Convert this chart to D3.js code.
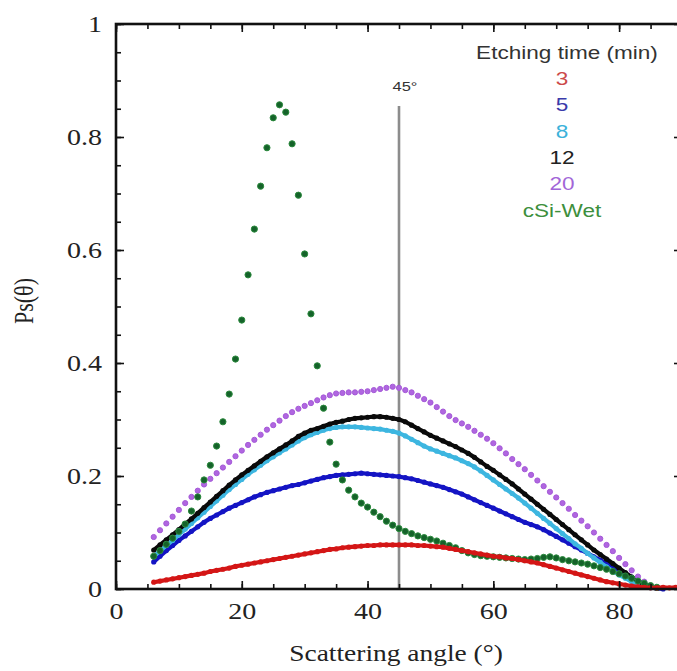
<!DOCTYPE html>
<html><head><meta charset="utf-8">
<script src="https://cdn.jsdelivr.net/npm/d3@7/dist/d3.min.js"></script>
<style>body{margin:0;background:#fff}svg{display:block}</style>
</head><body>
<svg id="chart" width="677" height="671"></svg>
<script>
// ---- data ----
const angles = [6,7,8,9,10,11,12,13,14,15,16,17,18,19,20,21,22,23,24,25,26,27,28,29,30,31,32,33,34,35,36,37,38,39,40,41,42,43,44,45,46,47,48,49,50,51,52,53,54,55,56,57,58,59,60,61,62,63,64,65,66,67,68,69,70,71,72,73,74,75,76,77,78,79,80,81,82,83,84,85,86,87,88,89,90];
const ps3 = [.012,.014,.016,.018,.020,.022,.024,.026,.028,.031,
  .033,.035,.037,.040,.042,.044,.046,.048,.050,.052,
  .054,.056,.058,.060,.062,.064,.066,.068,.070,.071,
  .073,.074,.075,.076,.077,.077,.078,.078,.078,.078,
  .078,.078,.077,.077,.076,.075,.074,.072,.070,.068,
  .066,.064,.062,.060,.058,.057,.055,.054,.052,.050,
  .048,.046,.043,.040,.037,.034,.031,.028,.025,.022,
  .019,.016,.013,.011,.009,.007,.005,.004,.003,.002,
  .002,.003,.002,.003,.002];
const ps5 = [.048,.058,.068,.077,.086,.094,.102,.110,.118,.125,
  .131,.137,.143,.148,.153,.158,.163,.167,.171,.174,
  .177,.180,.183,.185,.188,.191,.194,.197,.199,.201,
  .202,.203,.204,.205,.204,.203,.202,.201,.200,.199,
  .197,.195,.192,.189,.186,.183,.180,.176,.172,.168,
  .163,.158,.153,.148,.143,.138,.133,.128,.123,.118,
  .114,.110,.105,.099,.093,.087,.081,.075,.069,.063,
  .057,.051,.045,.039,.033,.027,.021,.015,.009,.004,
  .001,.000];
const ps8 = [.058,.067,.077,.086,.096,.106,.116,.126,.136,.146,
  .156,.166,.176,.185,.194,.203,.211,.219,.227,.234,
  .241,.248,.255,.262,.268,.273,.277,.281,.284,.286,
  .287,.287,.287,.286,.285,.284,.283,.281,.279,.276,
  .271,.265,.259,.253,.248,.244,.240,.236,.232,.227,
  .222,.216,.209,.201,.193,.185,.177,.169,.161,.152,
  .143,.134,.125,.116,.107,.098,.089,.080,.072,.063,
  .055,.047,.039,.032,.025,.019,.013,.008,.004,.002];
const ps12 = [.069,.078,.087,.096,.105,.115,.124,.134,.144,.154,
  .164,.174,.184,.193,.202,.210,.218,.226,.234,.241,
  .248,.255,.262,.270,.276,.281,.284,.288,.292,.295,
  .297,.300,.302,.303,.304,.305,.305,.304,.302,.300,
  .296,.290,.284,.278,.272,.267,.262,.257,.252,.246,
  .240,.233,.225,.217,.210,.202,.194,.186,.177,.168,
  .159,.150,.141,.132,.123,.114,.105,.096,.087,.078,
  .069,.061,.053,.045,.037,.029,.021,.014,.008,.003,
  .001];
const ps20 = [.092,.104,.116,.128,.140,.152,.163,.174,.185,.195,
  .205,.215,.225,.235,.245,.255,.264,.273,.282,.290,
  .298,.306,.313,.319,.324,.329,.334,.339,.343,.346,
  .347,.348,.348,.349,.350,.352,.354,.356,.358,.356,
  .352,.348,.342,.336,.330,.322,.314,.306,.299,.293,
  .287,.280,.273,.266,.258,.249,.240,.230,.221,.212,
  .202,.192,.182,.172,.162,.152,.142,.131,.121,.111,
  .100,.089,.078,.067,.055,.044,.033,.022,.013,.006,
  .002];
const psWet = [.058,.068,.079,.090,.102,.115,.138,.163,.193,.219,
  .253,.296,.345,.407,.476,.556,.637,.713,.781,.834,
  .857,.844,.788,.697,.593,.487,.395,.320,.260,.221,
  .193,.175,.163,.152,.145,.136,.128,.120,.113,.107,
  .102,.098,.094,.091,.088,.085,.081,.077,.073,.068,
  .064,.061,.059,.058,.057,.056,.055,.054,.053,.052,
  .053,.054,.056,.057,.055,.052,.050,.048,.046,.044,
  .041,.038,.035,.031,.027,.023,.019,.014,.010,.006,
  .003];
const legendTitle = "Etching time (min)";
const legendLabels = ["3","5","8","12","20","cSi-Wet"];
const xMajorTicks = [0,20,40,60,80];
const xMinorTicks = [0,5,10,15,20,25,30,35,40,45,50,55,60,65,70,75,80,85,90];
const yMajorTicks = [0,0.2,0.4,0.6,0.8,1];
const yMinorTicks = [0,0.05,0.1,0.15,0.2,0.25,0.3,0.35,0.4,0.45,0.5,0.55,0.6,0.65,0.7,0.75,0.8,0.85,0.9,0.95,1];
const refAngle = 45, refTop = 0.855;

// ---- drawing ----
const svg = d3.select("#chart");
const x = d3.scaleLinear().domain([0,90]).range([116,682]);
const y = d3.scaleLinear().domain([0,1]).range([589,24]);
const SX = 1.22;
const serif = "'Liberation Serif','Times New Roman',serif";
const sans = "'Liberation Sans',Arial,sans-serif";

svg.append("defs").append("clipPath").attr("id","pc")
  .append("rect").attr("x",116).attr("y",20).attr("width",566).attr("height",572);

// reference line
svg.append("line").attr("x1",x(refAngle)).attr("x2",x(refAngle))
  .attr("y1",y(0)).attr("y2",y(refTop))
  .attr("stroke","#8c8c8c").attr("stroke-width",2.6);
svg.append("text").attr("transform",`translate(${x(refAngle)+6},91) scale(${SX},1)`)
  .attr("text-anchor","middle").attr("font-family",sans).attr("font-size",13.5)
  .attr("fill","#333").text("45°");

const plot = svg.append("g").attr("clip-path","url(#pc)");
function lineSeries(vals,color,r,w){
  const pts = vals.map((v,i)=>[angles[i],v]);
  plot.append("path").datum(pts)
    .attr("fill","none").attr("stroke",color).attr("stroke-width",w)
    .attr("stroke-linejoin","round")
    .attr("d",d3.line().x(d=>x(d[0])).y(d=>y(d[1])));
  plot.append("g").selectAll("circle").data(pts).join("circle")
    .attr("cx",d=>x(d[0])).attr("cy",d=>y(d[1])).attr("r",r).attr("fill",color);
}
function dotSeries(vals,fill,stroke,r){
  const pts = vals.map((v,i)=>[angles[i],v]);
  plot.append("g").selectAll("circle").data(pts).join("circle")
    .attr("cx",d=>x(d[0])).attr("cy",d=>y(d[1])).attr("r",r)
    .attr("fill",fill).attr("stroke",stroke).attr("stroke-width",1);
}
lineSeries(ps5,"#1414c4",2.6,4.2);
lineSeries(ps8,"#3db6e0",2.6,4.2);
lineSeries(ps12,"#0a0a0a",2.6,4.2);
dotSeries(ps20,"#b066e0","#a55ad8",2.6);
dotSeries(psWet,"#15622a","#2b8a3d",3.1);
lineSeries(ps3,"#d41616",2.6,4.2);

// axes
function styleAxis(g){ g.select(".domain").remove(); g.selectAll("line").attr("stroke","#111").attr("stroke-width",1.6); }
svg.append("g").attr("transform",`translate(0,${y(0)})`)
  .call(d3.axisBottom(x).tickValues(xMinorTicks).tickSizeInner(-5).tickSizeOuter(0).tickFormat(""))
  .call(styleAxis);
svg.append("g").attr("transform",`translate(0,${y(1)})`)
  .call(d3.axisTop(x).tickValues(xMinorTicks).tickSizeInner(-5).tickSizeOuter(0).tickFormat(""))
  .call(styleAxis);
svg.append("g").attr("transform",`translate(${x(0)},0)`)
  .call(d3.axisLeft(y).tickValues(yMinorTicks).tickSizeInner(-5).tickSizeOuter(0).tickFormat(""))
  .call(styleAxis);
svg.append("g").attr("transform",`translate(${x(90)},0)`)
  .call(d3.axisRight(y).tickValues(yMinorTicks).tickSizeInner(-5).tickSizeOuter(0).tickFormat(""))
  .call(styleAxis);

const xb = svg.append("g").attr("transform",`translate(0,${y(0)})`)
  .call(d3.axisBottom(x).tickValues(xMajorTicks).tickSizeInner(-8).tickSizeOuter(0).tickPadding(14).tickFormat(d3.format("d")))
  .call(styleAxis);
xb.selectAll("text").attr("font-family",serif).attr("font-size",23).attr("fill","#222")
  .attr("transform",`scale(${SX},1)`);
const yl = svg.append("g").attr("transform",`translate(${x(0)},0)`)
  .call(d3.axisLeft(y).tickValues(yMajorTicks).tickSizeInner(-8).tickSizeOuter(0).tickPadding(11.5).tickFormat(d=>d===0?"0":d===1?"1":d3.format(".1f")(d)))
  .call(styleAxis);
yl.selectAll("text").attr("font-family",serif).attr("font-size",23).attr("fill","#222")
  .attr("transform",`scale(${SX},1)`);
svg.append("g").attr("transform",`translate(0,${y(1)})`)
  .call(d3.axisTop(x).tickValues(xMajorTicks).tickSizeInner(-8).tickSizeOuter(0).tickFormat(""))
  .call(styleAxis);
svg.append("g").attr("transform",`translate(${x(90)},0)`)
  .call(d3.axisRight(y).tickValues(yMajorTicks).tickSizeInner(-8).tickSizeOuter(0).tickFormat(""))
  .call(styleAxis);

// frame
svg.append("rect").attr("x",x(0)).attr("y",y(1)).attr("width",x(90)-x(0)).attr("height",y(0)-y(1))
  .attr("fill","none").attr("stroke","#111").attr("stroke-width",2.6);

// axis titles
svg.append("text").attr("transform",`translate(${(x(0)+x(90))/2 - 3},661) scale(${SX},1)`)
  .attr("text-anchor","middle").attr("font-family",serif).attr("font-size",22.5)
  .attr("fill","#222").text("Scattering angle (°)");
svg.append("text").attr("transform",`translate(33,301) rotate(-90) scale(1,${SX})`)
  .attr("text-anchor","middle").attr("font-family",serif).attr("font-size",22)
  .attr("fill","#222").text("Ps(θ)");

// legend
const legColors = ["#cc4a4a","#3a3aaa","#3cb2da","#222222","#a266d8","#3d8f3d"];
svg.append("text").attr("transform",`translate(567,58.5) scale(${SX},1)`)
  .attr("text-anchor","middle").attr("font-family",sans).attr("font-size",18.5)
  .attr("fill","#333").text(legendTitle);
legendLabels.forEach((t,i)=>{
  svg.append("text").attr("transform",`translate(562,${85+i*26.3}) scale(${SX},1)`)
    .attr("text-anchor","middle").attr("font-family",sans).attr("font-size",18.5)
    .attr("fill",legColors[i]).text(t);
});
</script>
</body></html>
